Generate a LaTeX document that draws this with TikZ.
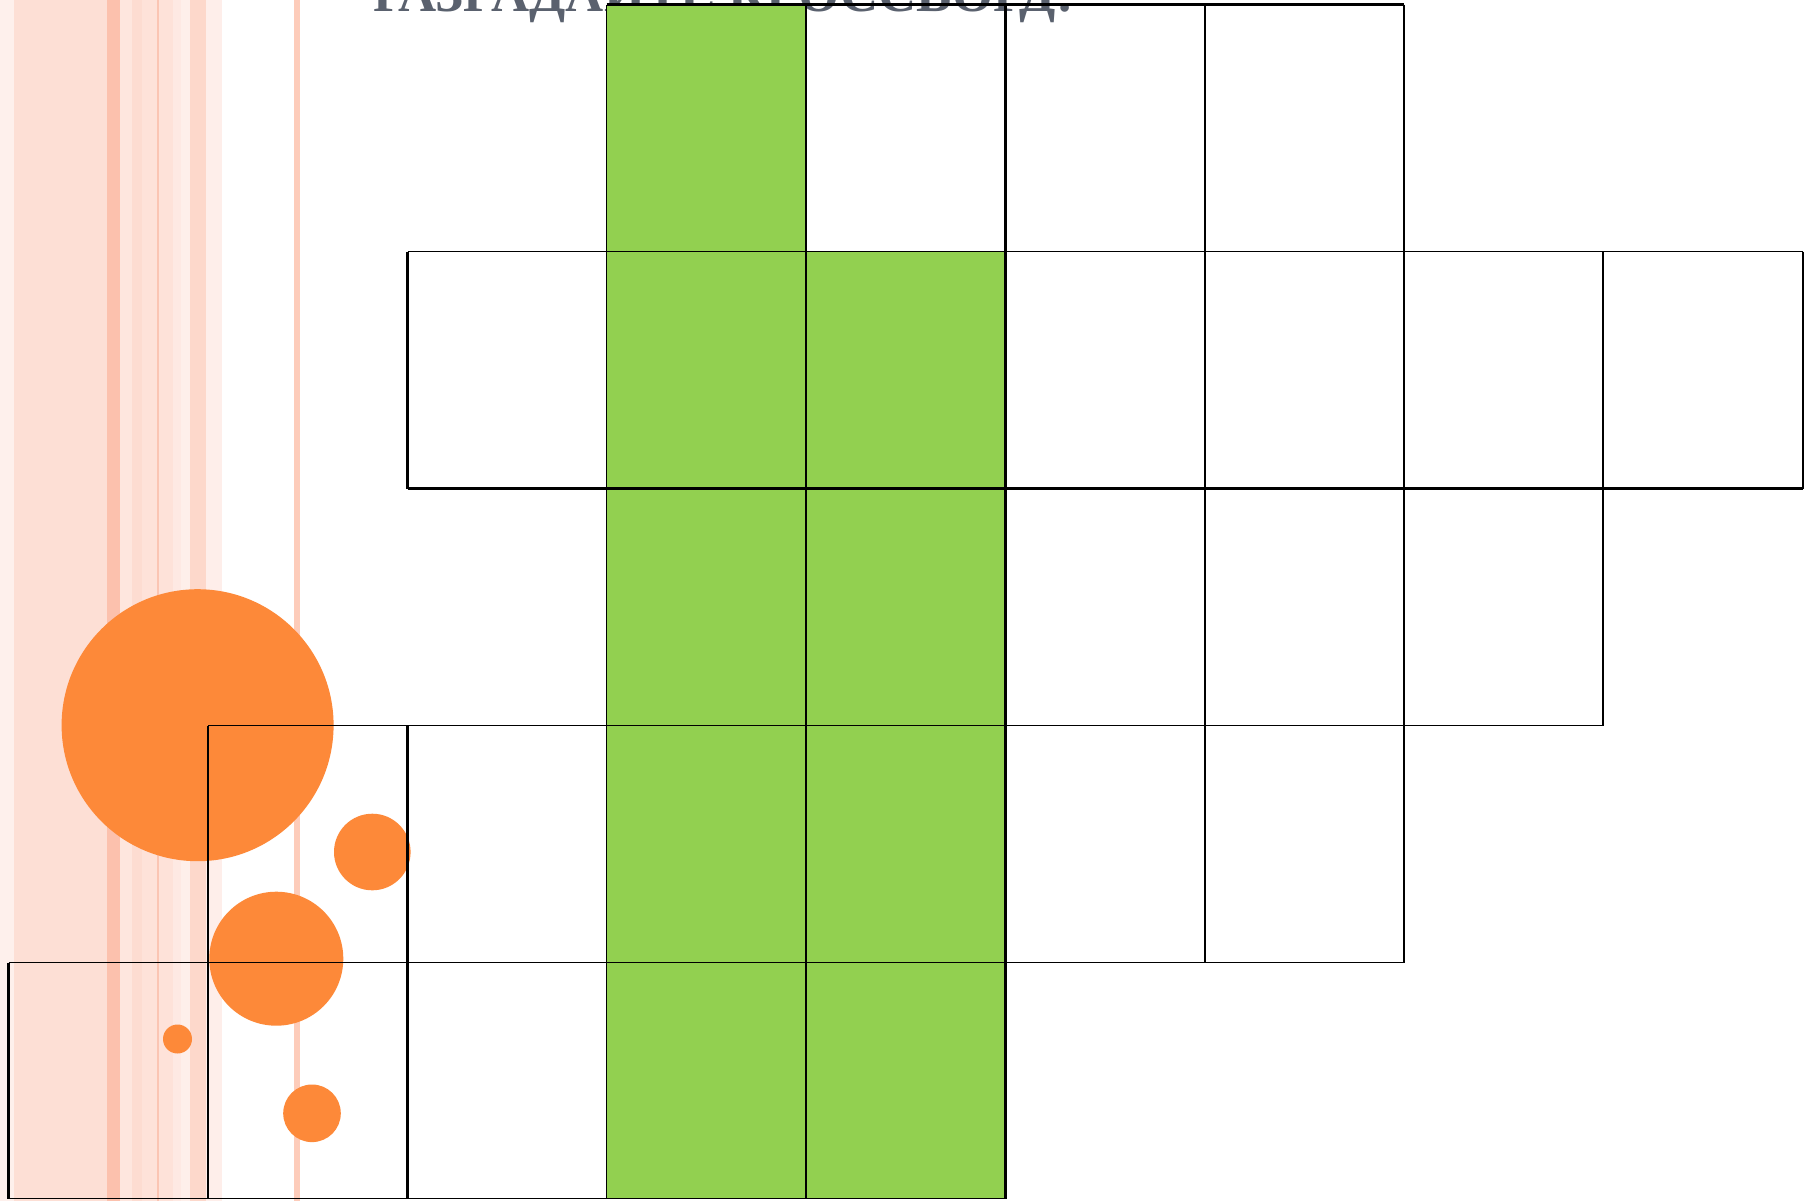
\documentclass[tikz,border=0pt]{standalone}
\usepackage{fontspec}
\setmainfont{Liberation Serif}
\definecolor{sA}{RGB}{254,240,236}
\definecolor{sB}{RGB}{253,223,213}
\definecolor{sC}{RGB}{252,193,173}
\definecolor{sD}{RGB}{254,230,222}
\definecolor{sE}{RGB}{253,220,209}
\definecolor{sF}{RGB}{254,226,217}
\definecolor{sG}{RGB}{251,197,179}
\definecolor{sH}{RGB}{254,233,227}
\definecolor{sI}{RGB}{254,239,234}
\definecolor{sJ}{RGB}{253,216,203}
\definecolor{sK}{RGB}{254,238,234}
\definecolor{sL}{RGB}{253,204,186}
\definecolor{dotorange}{RGB}{253,137,57}
\definecolor{cellgreen}{RGB}{146,208,80}
\definecolor{titlegrey}{RGB}{90,97,110}
\tikzset{
  stripe/.style={fill=#1, draw=none},
  bubble/.style={fill=dotorange, draw=none},
  thinline/.style={draw=black, line width=0.65pt},
  thickline/.style={draw=black, line width=1.3pt},
  greencell/.style={fill=cellgreen, draw=none}
}
\begin{document}
\begin{tikzpicture}[x=0.5pt, y=-0.5pt]
\useasboundingbox (0,0) rectangle (1812,1201);
\fill[white] (0,0) rectangle (1812,1201);
% stripes
\fill[stripe=sA] (0,0) rectangle (14,1201);
\fill[stripe=sB] (14,0) rectangle (107,1201);
\fill[stripe=sC] (107,0) rectangle (119.5,1201);
\fill[stripe=sD] (119.5,0) rectangle (132,1201);
\fill[stripe=sE] (132,0) rectangle (142,1201);
\fill[stripe=sF] (142,0) rectangle (157,1201);
\fill[stripe=sG] (157,0) rectangle (159,1201);
\fill[stripe=sF] (159,0) rectangle (173,1201);
\fill[stripe=sH] (173,0) rectangle (181,1201);
\fill[stripe=sI] (181,0) rectangle (190,1201);
\fill[stripe=sJ] (190,0) rectangle (206,1201);
\fill[stripe=sK] (206,0) rectangle (222,1201);
\fill[stripe=sL] (293.5,0) rectangle (299.5,1201);
% bubbles
\fill[bubble] (197.6,725.2) circle[radius=136];
\fill[bubble] (372.3,852) circle[radius=38.3];
\fill[bubble] (276.3,958.7) circle[radius=67];
\fill[bubble] (177.5,1039) circle[radius=14.5];
\fill[bubble] (312,1113.3) circle[radius=28.8];
% title
\node[anchor=base west, inner sep=0pt, text=titlegrey, font=\bfseries\fontsize{26.4pt}{31pt}\selectfont] (title) at (373,11) {РАЗГАДАЙТЕ КРОССВОРД:};
% grid coordinates
\def\Xa{8.5}\def\Xb{208}\def\Xc{407.5}\def\Xd{606.7}\def\Xe{806}
\def\Xf{1005.5}\def\Xg{1205}\def\Xh{1404}\def\Xi{1603}\def\Xj{1803}
\def\Ya{4.5}\def\Yb{251.5}\def\Yc{488.7}\def\Yd{725.7}\def\Ye{962.6}\def\Yf{1198.5}
% green cells
\fill[greencell] (\Xd,\Ya) rectangle (\Xe,\Yf);
\fill[greencell] (\Xe,\Yb) rectangle (\Xf,\Yf);
% horizontal lines
\draw[thickline] (\Xd,\Ya) -- (\Xh,\Ya);
\draw[thinline] (\Xc,\Yb) -- (\Xj,\Yb);
\draw[thickline] (\Xc,\Yc) -- (\Xj,\Yc);
\draw[thinline] (\Xb,\Yd) -- (\Xi,\Yd);
\draw[thinline] (\Xa,\Ye) -- (\Xh,\Ye);
\draw[thinline] (\Xa,\Yf) -- (\Xf,\Yf);
% vertical lines
\draw[thickline] (\Xa,\Ye) -- (\Xa,\Yf);
\draw[thinline] (\Xb,\Yd) -- (\Xb,\Yf);
\draw[thickline] (\Xc,\Yb) -- (\Xc,\Yc);
\draw[thickline] (\Xc,\Yd) -- (\Xc,\Yf);
\draw[thinline] (\Xd,\Ya) -- (\Xd,\Yf);
\draw[thinline] (\Xe,\Ya) -- (\Xe,\Yf);
\draw[thickline] (\Xf,\Ya) -- (\Xf,\Yf);
\draw[thinline] (\Xg,\Ya) -- (\Xg,\Ye);
\draw[thickline] (\Xh,\Ya) -- (\Xh,\Ye);
\draw[thinline] (\Xi,\Yb) -- (\Xi,\Yd);
\draw[thinline] (\Xj,\Yb) -- (\Xj,\Yc);
\end{tikzpicture}
\end{document}
